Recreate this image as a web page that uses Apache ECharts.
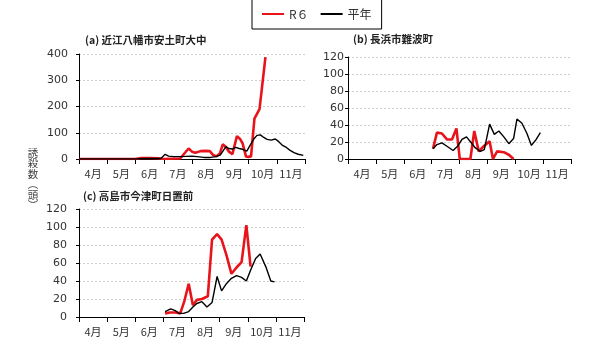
<!DOCTYPE html>
<html>
<head>
<meta charset="utf-8">
<script src="https://cdn.jsdelivr.net/npm/echarts@6/dist/echarts.min.js"></script>
<style>
html,body{margin:0;padding:0;background:#fff;}
#c{width:600px;height:338px;}
</style>
</head>
<body>
<div id="c"></div>
<script>
// Month categories (x positions of data are in months since 1 April)
const months = ['4月','5月','6月','7月','8月','9月','10月','11月'];
const seriesNames = ['R６','平年'];
const titles = ['(a) 近江八幡市安土町大中','(b) 長浜市難波町','(c) 高島市今津町日置前'];
const yAxisTitleChars = ['誘','殺','数','︵','頭','︶'];

// (a) 近江八幡市安土町大中
const aR6 = [[0,0],[2.0,0],[2.2,4],[2.5,4],[2.8,3],[2.98,0],[3.58,2],[3.88,40],[4.0,28],[4.12,24],[4.3,30],[4.48,31],[4.63,30],[4.75,15],[4.87,10],[4.99,22],[5.09,56],[5.19,47],[5.31,28],[5.43,18],[5.59,87],[5.71,75],[5.79,60],[5.91,10],[5.99,8],[6.09,10],[6.21,154],[6.39,190],[6.6,388]];
const aAvg = [[0,0],[2.0,0],[2.3,2],[2.6,2],[2.9,2],[3.05,18],[3.17,11],[3.35,9],[3.58,9],[4.0,11],[4.18,9],[4.42,6],[4.66,6],[4.84,9],[5.0,15],[5.2,47],[5.3,40],[5.43,38],[5.55,44],[5.67,40],[5.79,37],[5.94,30],[6.06,53],[6.18,75],[6.3,90],[6.42,92],[6.54,82],[6.66,75],[6.8,72],[6.95,76],[7.07,66],[7.19,53],[7.34,44],[7.46,34],[7.61,24],[7.76,18],[7.94,14]];

// (b) 長浜市難波町
const bR6 = [[3.05,12],[3.19,31],[3.37,30],[3.55,23],[3.73,23],[3.89,36],[4.01,0],[4.39,0],[4.53,33],[4.69,9],[4.87,15],[5.08,21],[5.2,0],[5.35,9],[5.59,8],[5.77,5],[5.94,0]];
const bAvg = [[3.05,12],[3.19,17],[3.37,19],[3.55,15],[3.77,10],[3.93,15],[4.09,23],[4.25,26],[4.4,20],[4.57,13],[4.75,9],[4.89,11],[5.08,41],[5.25,29],[5.41,33],[5.59,26],[5.77,18],[5.94,24],[6.06,47],[6.24,42],[6.42,30],[6.58,16],[6.75,23],[6.9,31]];

// (c) 高島市今津町日置前
const cR6 = [[3.06,4],[3.24,5],[3.42,5],[3.6,4],[3.74,17],[3.9,37],[4.05,13],[4.19,19],[4.37,20],[4.58,23],[4.73,86],[4.91,92],[5.07,86],[5.24,69],[5.42,48],[5.6,55],[5.78,61],[5.95,102],[6.1,56]];
const cAvg = [[3.06,6],[3.26,9],[3.42,7],[3.57,4],[3.72,4],[3.9,6],[4.05,11],[4.19,15],[4.37,17],[4.55,11],[4.73,16],[4.91,45],[5.07,29],[5.24,37],[5.42,43],[5.6,46],[5.78,44],[5.95,40],[6.1,52],[6.28,65],[6.44,70],[6.64,56],[6.82,40],[6.95,39]];

const yMax = [400,120,120];
const yInterval = [100,20,20];

const RED = '#e8141b';
const FONT = 'DejaVu Sans, Verdana, sans-serif';
const JFONT = '"Noto Sans CJK JP", sans-serif';

const grids = [
  {left:79, top:54, width:226, height:105},
  {left:348, top:57, width:223, height:102},
  {left:79, top:209, width:225, height:108}
];
const labelMargins = [11,4,12];
const titlePos = [[85,35],[353,34],[83,191]];

const xAxes = [], yAxes = [], series = [], titleList = [];
const allData = [[aR6,aAvg],[bR6,bAvg],[cR6,cAvg]];
for (let i=0;i<3;i++){
  xAxes.push({
    type:'category', gridIndex:i, data:months, boundaryGap:true, position:'bottom',
    axisLine:{show:true, lineStyle:{color:'#000', width:1}},
    axisTick:{show:true, length:5, interval:0, lineStyle:{color:'#000'}},
    axisLabel:{fontSize:11, color:'#333', margin:9, interval:0, fontFamily:JFONT},
    splitLine:{show:false}
  });
  xAxes.push({type:'value', gridIndex:i, min:0, max:8, show:false});
  yAxes.push({
    type:'value', gridIndex:i, min:0, max:yMax[i], interval:yInterval[i],
    axisLine:{show:true, lineStyle:{color:'#000', width:1}},
    axisTick:{show:true, length:3, lineStyle:{color:'#000'}},
    axisLabel:{fontSize:11, color:'#333', margin:labelMargins[i], fontFamily:FONT},
    splitLine:{show:true, lineStyle:{color:'#cfcfcf', type:[2,2], width:1}}
  });
  series.push({
    name:seriesNames[0], type:'line', xAxisIndex:2*i+1, yAxisIndex:i,
    data:allData[i][0], symbol:'none', smooth:false, animation:false,
    lineStyle:{color:RED, width:2.6}, itemStyle:{color:RED}
  });
  series.push({
    name:seriesNames[1], type:'line', xAxisIndex:2*i+1, yAxisIndex:i,
    data:allData[i][1], symbol:'none', smooth:false, animation:false,
    lineStyle:{color:'#000', width:1.4}, itemStyle:{color:'#000'}
  });
  titleList.push({
    text:titles[i], left:titlePos[i][0], top:titlePos[i][1], padding:0,
    textStyle:{fontSize:10.5, fontWeight:'bold', color:'#222', fontFamily:JFONT}
  });
}

const graphics = yAxisTitleChars.map((ch, k) => ({
  type:'text', x:33, y:153 + k*10.5,
  style:{text:ch, font:'10.5px "Noto Sans CJK JP"', fill:'#444', align:'center', verticalAlign:'middle'}
}));

const chart = echarts.init(document.getElementById('c'), null, {renderer:'canvas'});
chart.setOption({
  animation:false,
  backgroundColor:'#fff',
  title:titleList,
  legend:{
    data:[
      {name:seriesNames[0], lineStyle:{width:3.5}},
      {name:seriesNames[1], lineStyle:{width:1.2}}
    ],
    left:252, top:-1, width:134, height:33,
    padding:[9,10,9,10], itemGap:12, itemWidth:22, itemHeight:12,
    borderColor:'#000', borderWidth:1, icon:'path://M0,5H22V7H0Z',
    textStyle:{fontSize:12, color:'#333', fontFamily:JFONT}
  },
  grid:grids,
  xAxis:xAxes,
  yAxis:yAxes,
  series:series,
  graphic:graphics
});
</script>
</body>
</html>
